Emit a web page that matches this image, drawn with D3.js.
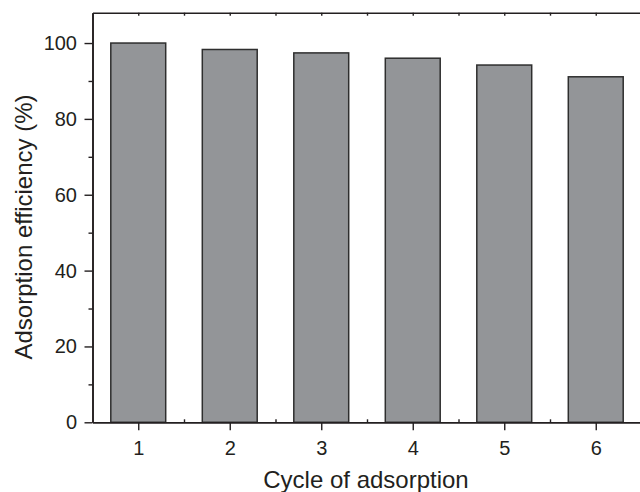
<!DOCTYPE html>
<html>
<head>
<meta charset="utf-8">
<script src="https://cdn.jsdelivr.net/npm/d3@7"></script>
<style>
  html, body { margin: 0; padding: 0; background: #fff; }
  svg { display: block; font-family: "Liberation Sans", Arial, sans-serif; }
</style>
</head>
<body>
<svg id="chart" width="640" height="492"></svg>
<script>
const cycles = [1, 2, 3, 4, 5, 6];
const efficiency = [100, 98.3, 97.4, 96.0, 94.2, 91.1];
const yMajorTicks = [0, 20, 40, 60, 80, 100];
const yMinorTicks = [10, 30, 50, 70, 90];
const xTitle = "Cycle of adsorption";
const yTitle = "Adsorption efficiency (%)";

(function () {
const svg = d3.select("#chart");
const mLeft = 92.5, mRight = 641.5, mTop = 12.7, mBottom = 422.3;
const axisColor = "#231f20";

const x = d3.scaleLinear().domain([0.5, 6.5]).range([mLeft, mRight]);
const y = d3.scaleLinear().domain([0, 108]).range([mBottom, mTop]);
const barW = (x(2) - x(1)) * 0.6;

// bars
svg.append("g").selectAll("rect")
  .data(cycles.map((c, i) => ({c, v: efficiency[i]})))
  .join("rect")
  .attr("x", d => x(d.c) - barW / 2)
  .attr("y", d => y(d.v))
  .attr("width", barW)
  .attr("height", d => y(0) - y(d.v))
  .attr("fill", "#939598")
  .attr("stroke", "#2e2e2e")
  .attr("stroke-width", 1.5);

function styleAxis(g) {
  g.selectAll(".domain").attr("stroke", axisColor).attr("stroke-width", 1.6);
  g.selectAll(".tick line").attr("stroke", axisColor).attr("stroke-width", 1.4);
  g.selectAll(".tick text").attr("fill", "#231f20").style("font-size", "20px")
    .style("font-family", "'Liberation Sans', Arial, sans-serif");
}

// left axis major
const gl = svg.append("g").attr("transform", `translate(${mLeft},0)`)
  .call(d3.axisLeft(y).tickValues(yMajorTicks).tickFormat(d3.format("d"))
    .tickSizeInner(8).tickSizeOuter(0).tickPadding(7.5));
styleAxis(gl);
// left axis minor
const glm = svg.append("g").attr("transform", `translate(${mLeft},0)`)
  .call(d3.axisLeft(y).tickValues(yMinorTicks).tickSizeInner(4).tickSizeOuter(0).tickFormat(""));
styleAxis(glm);

// bottom axis major
const gb = svg.append("g").attr("transform", `translate(0,${mBottom})`)
  .call(d3.axisBottom(x).tickValues(cycles).tickFormat(d3.format("d"))
    .tickSizeInner(8).tickSizeOuter(0).tickPadding(11));
styleAxis(gb);
// bottom minor inward
const gbm = svg.append("g").attr("transform", `translate(0,${mBottom})`)
  .call(d3.axisBottom(x).tickValues(cycles.map(c => c + 0.5)).tickSizeInner(-3).tickSizeOuter(0).tickFormat(""));
styleAxis(gbm);

// top axis (mirror, inward ticks)
const topTicks = cycles.concat(cycles.map(c => c + 0.5));
const gt = svg.append("g").attr("transform", `translate(0,${mTop})`)
  .call(d3.axisTop(x).tickValues(topTicks).tickSizeInner(-3).tickSizeOuter(0).tickFormat(""));
styleAxis(gt);

// right frame line (just beyond view)
const gr = svg.append("g").attr("transform", `translate(${mRight},0)`)
  .call(d3.axisRight(y).tickValues([]).tickSizeOuter(0));
styleAxis(gr);

// titles
svg.append("text")
  .attr("x", 366).attr("y", 487.5)
  .attr("text-anchor", "middle")
  .attr("fill", "#231f20")
  .style("font-size", "24px")
  .text(xTitle);

svg.append("text")
  .attr("transform", "translate(32,227) rotate(-90)")
  .attr("text-anchor", "middle")
  .attr("fill", "#231f20")
  .style("font-size", "24px")
  .text(yTitle);
})();
</script>
</body>
</html>
